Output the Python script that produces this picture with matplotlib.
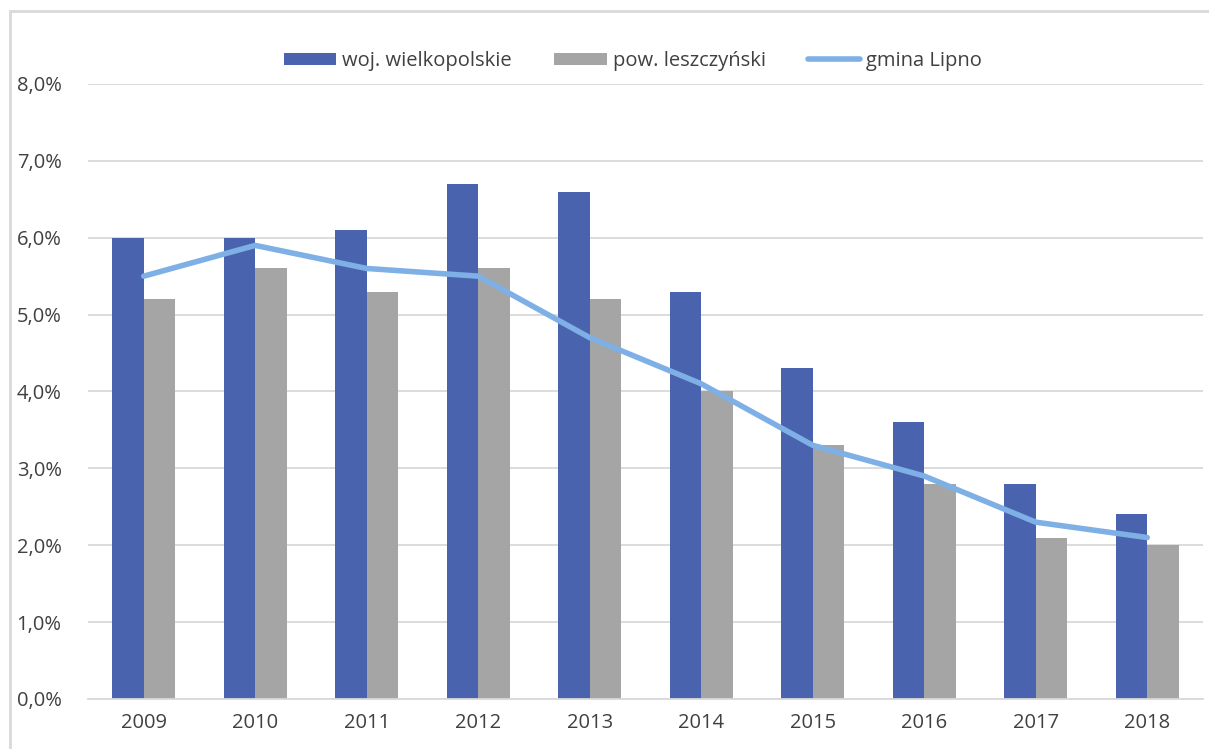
import matplotlib.pyplot as plt
import numpy as np
from matplotlib.patches import Rectangle
from matplotlib.ticker import FuncFormatter

plt.rcParams['font.family'] = ['Open Sans', 'DejaVu Sans']

years = ['2009', '2010', '2011', '2012', '2013', '2014', '2015', '2016', '2017', '2018']
woj = [6.0, 6.0, 6.1, 6.7, 6.6, 5.3, 4.3, 3.6, 2.8, 2.4]
pow_ = [5.2, 5.6, 5.3, 5.6, 5.2, 4.0, 3.3, 2.8, 2.1, 2.0]
gmina = [5.5, 5.9, 5.6, 5.5, 4.7, 4.1, 3.3, 2.9, 2.3, 2.1]

fig = plt.figure(figsize=(12.09, 7.49), dpi=100)
ax = fig.add_axes([0.0728, 0.0668, 0.9222, 0.8211])

# outer chart frame (cropped at right and bottom)
fig.patches.append(Rectangle((10 / 1209, -0.1), 1.2, 1 - 11 / 749 + 0.1,
                             transform=fig.transFigure, fill=False,
                             edgecolor='#d9d9d9', linewidth=2))

x = np.arange(len(years))
w = 0.283
b1 = ax.bar(x - w / 2, woj, w, color='#4a63ae', label='woj. wielkopolskie', zorder=2)
b2 = ax.bar(x + w / 2, pow_, w, color='#a5a5a5', label='pow. leszczyński', zorder=2)
l1, = ax.plot(x, gmina, color='#7eb0e6', linewidth=4, label='gmina Lipno',
              solid_capstyle='round', zorder=3)

ax.set_xlim(-0.5, len(years) - 0.5)
ax.set_ylim(0, 8)
ax.set_yticks(np.arange(0, 9, 1))
ax.yaxis.set_major_formatter(FuncFormatter(lambda v, p: f'{v:.1f}%'.replace('.', ',')))
ax.set_xticks(x)
ax.set_xticklabels(years)
ax.grid(axis='y', color='#d9d9d9', linewidth=1.3, zorder=0)
for s in ['top', 'right', 'left']:
    ax.spines[s].set_visible(False)
ax.spines['bottom'].set_color('#d9d9d9')
ax.spines['bottom'].set_linewidth(1.3)
ax.tick_params(axis='both', length=0, labelsize=14.5, colors='#404040')
ax.tick_params(axis='y', pad=19)
ax.tick_params(axis='x', pad=10)

fig.legend(handles=[b1, b2, l1], loc='center',
           bbox_to_anchor=(633 / 1209, 1 - 61 / 749), ncol=3,
           frameon=False, fontsize=14.5, handlelength=2.6, handleheight=0.55,
           columnspacing=2.1, handletextpad=0.3, labelcolor='#404040')

plt.savefig('out.png')
